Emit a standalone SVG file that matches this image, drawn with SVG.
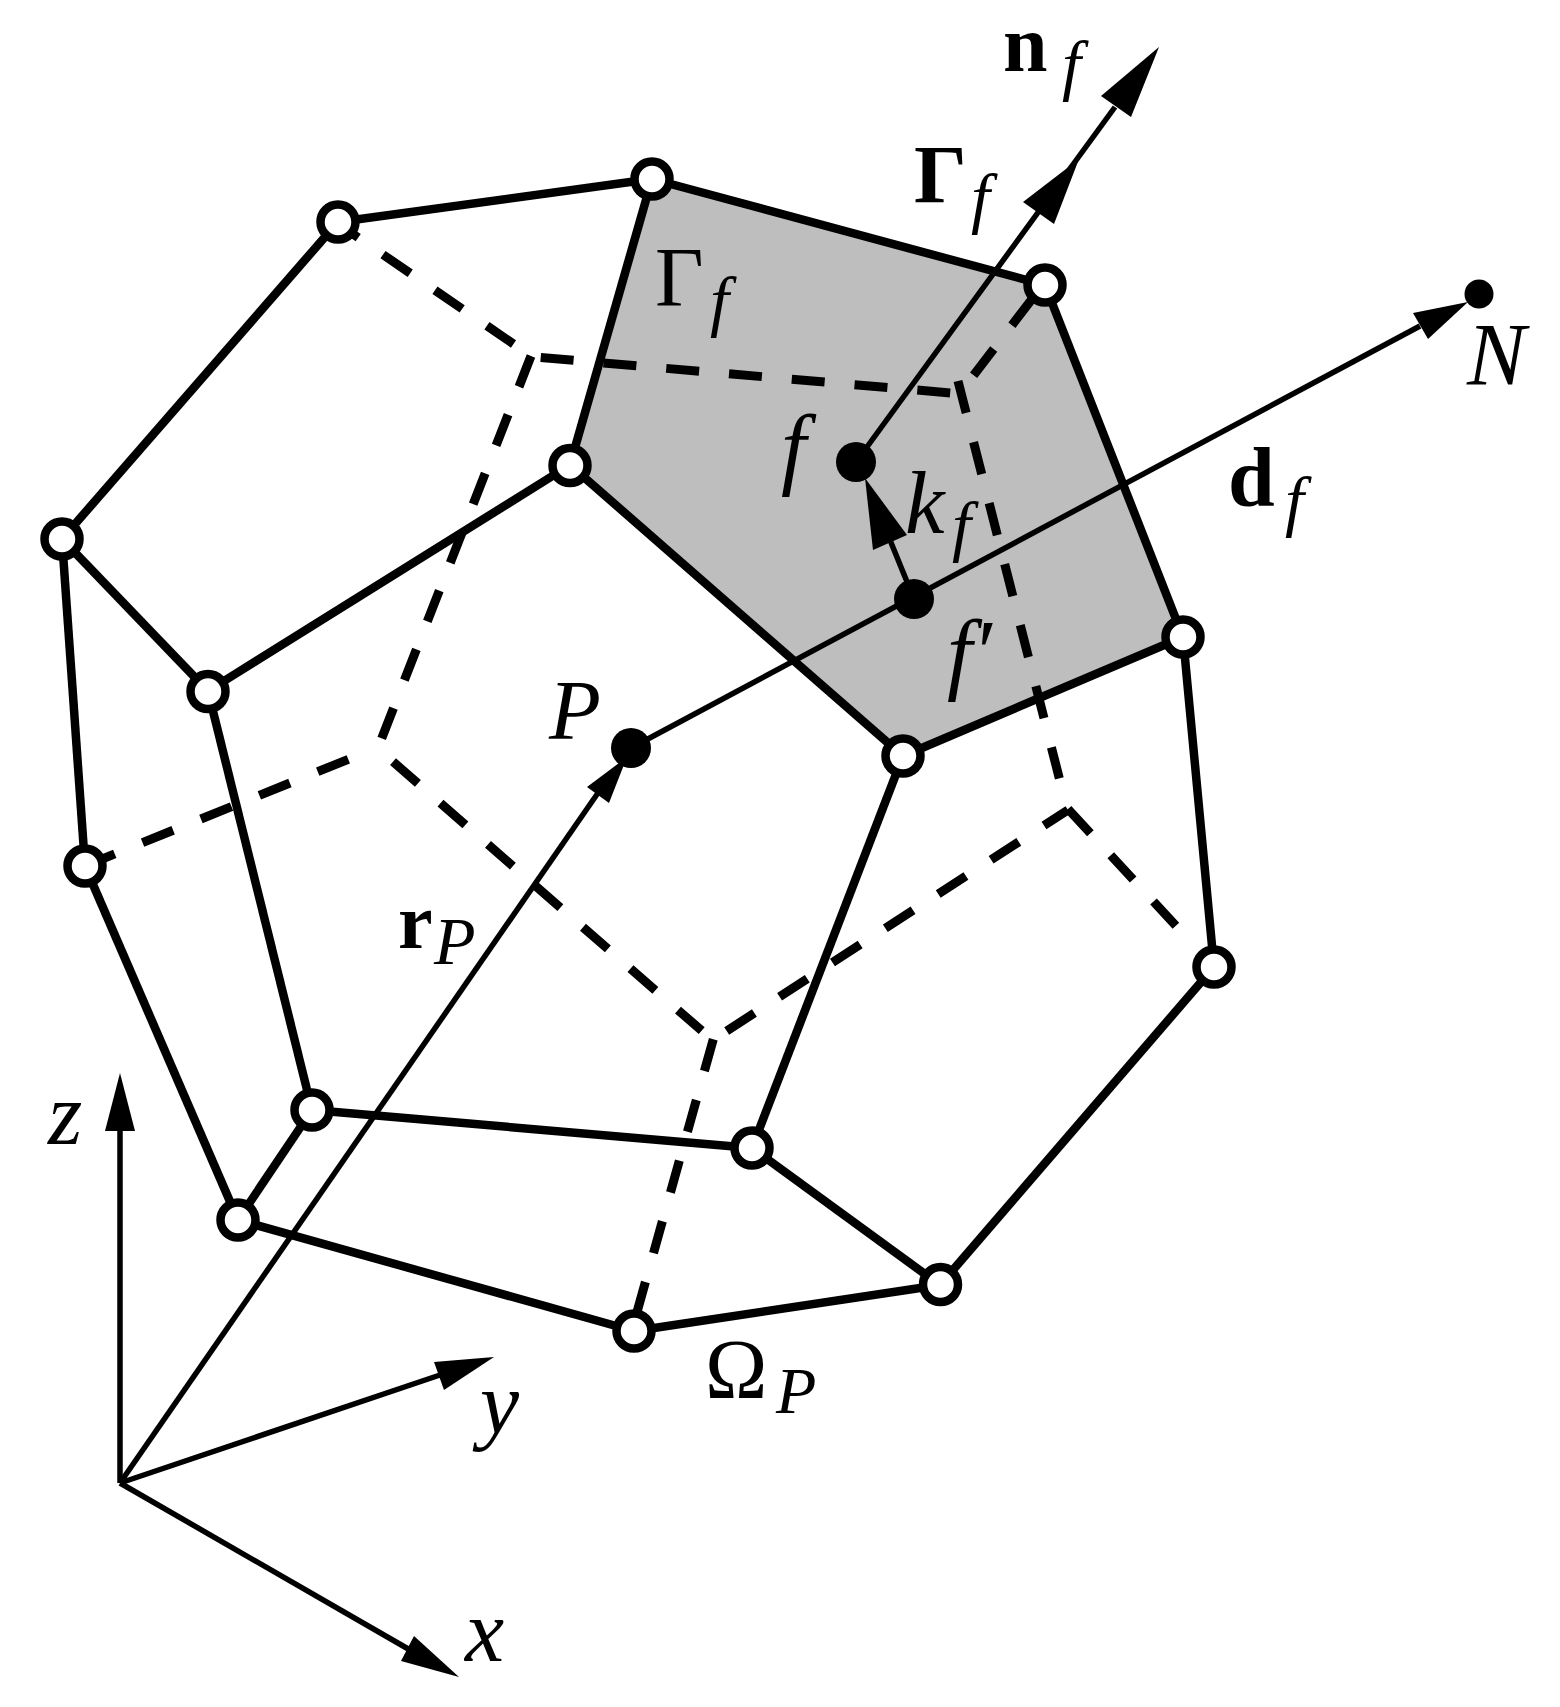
<svg xmlns="http://www.w3.org/2000/svg" width="1560" height="1707" viewBox="0 0 1560 1707">
<style>
.e{stroke:#000;stroke-width:8.5;fill:none;stroke-linecap:butt}
.d{stroke:#000;stroke-width:9;fill:none;stroke-dasharray:33 30}
.t{stroke:#000;stroke-width:5.5;fill:none}
.h{fill:#000;stroke:none}
.o{fill:#fff;stroke:#000;stroke-width:8.5}
.b{fill:#000}
text{font-family:"Liberation Serif","Times New Roman",serif;fill:#000}
.i{font-style:italic}
.m{font-weight:bold}
</style>
<rect width="1560" height="1707" fill="#fff"/>
<polygon id="face" points="652,179 1045,285 1183,637 903,756 570,465" fill="#bebebe"/>
<g id="connectors">
<g id="dashed">
<line class="d" x1="331" y1="219" x2="513.5" y2="344"/>
<line class="d" x1="540.7" y1="357.5" x2="951" y2="393"/>
<line class="d" x1="1032" y1="299" x2="973" y2="376"/>
<line class="d" x1="531" y1="356" x2="381.7" y2="738.3"/>
<line class="d" x1="348.3" y1="759.3" x2="85" y2="866"/>
<line class="d" x1="393" y1="761.7" x2="701.7" y2="1030.7"/>
<line class="d" x1="713.3" y1="1039.3" x2="637" y2="1312"/>
<line class="d" x1="726.7" y1="1031" x2="1068" y2="810"/>
<line class="d" x1="958" y1="381" x2="1059.3" y2="778.3"/>
<line class="d" x1="1068" y1="809" x2="1177" y2="927"/>
</g>
<g id="edges">
<line class="e" x1="338" y1="222" x2="652" y2="179"/>
<line class="e" x1="652" y1="179" x2="1045" y2="285"/>
<line class="e" x1="1045" y1="285" x2="1183" y2="637"/>
<line class="e" x1="1183" y1="637" x2="903" y2="756"/>
<line class="e" x1="903" y1="756" x2="570" y2="465"/>
<line class="e" x1="570" y1="465" x2="652" y2="179"/>
<line class="e" x1="570" y1="465" x2="208" y2="691"/>
<line class="e" x1="208" y1="691" x2="62" y2="539"/>
<line class="e" x1="62" y1="539" x2="338" y2="222"/>
<line class="e" x1="62" y1="539" x2="85" y2="866"/>
<line class="e" x1="208" y1="691" x2="312" y2="1110"/>
<line class="e" x1="85" y1="866" x2="238" y2="1220"/>
<line class="e" x1="312" y1="1110" x2="238" y2="1220"/>
<line class="e" x1="312" y1="1110" x2="752" y2="1148"/>
<line class="e" x1="752" y1="1148" x2="903" y2="756"/>
<line class="e" x1="752" y1="1148" x2="940" y2="1285"/>
<line class="e" x1="940" y1="1285" x2="1214" y2="967"/>
<line class="e" x1="1214" y1="967" x2="1183" y2="637"/>
<line class="e" x1="238" y1="1220" x2="634" y2="1331"/>
<line class="e" x1="634" y1="1331" x2="940" y2="1285"/>
</g>
<g id="arrows">
<line class="t" x1="120" y1="1483" x2="120" y2="1125"/>
<polygon class="h" points="120,1073 135,1131 105,1131"/>
<line class="t" x1="120" y1="1483" x2="440" y2="1375"/>
<polygon class="h" points="494,1357 434,1362 444,1390"/>
<line class="t" x1="120" y1="1483" x2="410" y2="1650"/>
<polygon class="h" points="459,1677 414,1636 401,1661"/>
<line class="t" x1="120" y1="1483" x2="600" y2="790"/>
<polygon class="h" points="627,757 587,787 609,803"/>
<line class="t" x1="631" y1="748" x2="1420" y2="326"/>
<polygon class="h" points="1468,302 1413,313 1428,339"/>
<line class="t" x1="856" y1="462" x2="1115" y2="107"/>
<polygon class="h" points="1079,159 1023,202 1054,224"/>
<polygon class="h" points="1159,47 1101,96 1131,117"/>
<line class="t" x1="914" y1="599" x2="890" y2="540"/>
<polygon class="h" points="865,478 873,550 907,535"/>
</g>
</g>
<g id="n1"><circle class="o" cx="652" cy="179" r="17.5"/></g>
<g id="n2"><circle class="o" cx="338" cy="222" r="17.5"/></g>
<g id="n3"><circle class="o" cx="1045" cy="285" r="17.5"/></g>
<g id="n4"><circle class="o" cx="570" cy="465.500" r="17.5"/></g>
<g id="n5"><circle class="o" cx="62" cy="539" r="17.5"/></g>
<g id="n6"><circle class="o" cx="208" cy="691.500" r="17.5"/></g>
<g id="n7"><circle class="o" cx="1183" cy="637" r="17.5"/></g>
<g id="n8"><circle class="o" cx="903" cy="756" r="17.5"/></g>
<g id="n9"><circle class="o" cx="85" cy="866" r="17.5"/></g>
<g id="n10"><circle class="o" cx="1214" cy="967" r="17.5"/></g>
<g id="n11"><circle class="o" cx="312" cy="1110" r="17.5"/></g>
<g id="n12"><circle class="o" cx="238" cy="1220" r="17.5"/></g>
<g id="n13"><circle class="o" cx="752" cy="1148" r="17.5"/></g>
<g id="n14"><circle class="o" cx="940.500" cy="1284.500" r="17.5"/></g>
<g id="n15"><circle class="o" cx="634" cy="1331" r="17.5"/></g>
<g id="pt-f"><circle class="b" cx="856" cy="462" r="20"/></g>
<g id="pt-fp"><circle class="b" cx="914" cy="599" r="20"/></g>
<g id="pt-P"><circle class="b" cx="631" cy="748" r="20"/></g>
<g id="pt-N"><circle class="b" cx="1479" cy="294" r="14.5"/></g>
<g id="labels">
<text class="m" x="1003" y="71" font-size="80">n</text><text class="i" x="1062" y="88" font-size="68">f</text>
<text class="m" x="914" y="202" font-size="83">Γ</text><text class="i" x="971" y="221" font-size="68">f</text>
<text x="655" y="306" font-size="84">Γ</text><text class="i" x="710" y="324" font-size="68">f</text>
<text class="i" x="781" y="478" font-size="90">f</text>
<text class="i" x="905" y="533" font-size="89">k</text><text class="i" x="952" y="549" font-size="68">f</text>
<text class="i" x="947" y="683" font-size="90">f′</text>
<text class="m" x="1228" y="506" font-size="84">d</text><text class="i" x="1285" y="524" font-size="68">f</text>
<text class="i" x="1467" y="384" font-size="88">N</text>
<text class="i" x="549" y="739" font-size="85">P</text>
<text class="m" x="398" y="948" font-size="78">r</text><text class="i" x="434" y="964" font-size="68">P</text>
<text x="705" y="1398" font-size="84">Ω</text><text class="i" x="776" y="1413" font-size="66">P</text>
<text class="i" x="48" y="1144" font-size="88">z</text>
<text class="i" x="480" y="1433" font-size="88">y</text>
<text class="i" x="465" y="1661" font-size="88">x</text>
</g>
</svg>
